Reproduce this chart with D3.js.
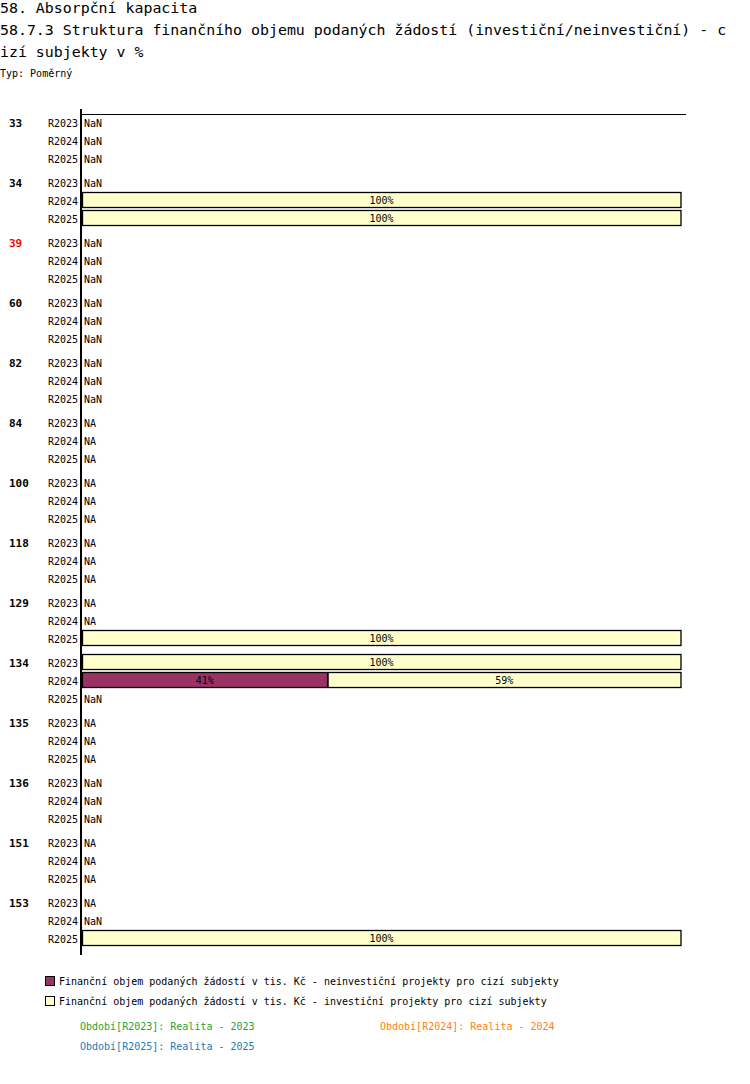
<!DOCTYPE html>
<html><head><meta charset="utf-8">
<script src="https://cdn.jsdelivr.net/npm/d3@7"></script>
<style>body{margin:0;background:#fff;} svg{display:block;} text{font-family:"DejaVu Sans Mono",monospace;}</style>
</head><body>
<svg id="c" width="750" height="1084"></svg>
<script>
const groups = ["33","34","39","60","82","84","100","118","129","134","135","136","151","153"];
const redGroups = ["39"];
const periods = ["R2023","R2024","R2025"];
// per group, per period: "NaN", "NA", or [neinvesticni %, investicni %]
const values = [
  ["NaN","NaN","NaN"],
  ["NaN",[0,100],[0,100]],
  ["NaN","NaN","NaN"],
  ["NaN","NaN","NaN"],
  ["NaN","NaN","NaN"],
  ["NA","NA","NA"],
  ["NA","NA","NA"],
  ["NA","NA","NA"],
  ["NA","NA",[0,100]],
  [[0,100],[41,59],"NaN"],
  ["NA","NA","NA"],
  ["NaN","NaN","NaN"],
  ["NA","NA","NA"],
  ["NA","NaN",[0,100]]
];
const seriesNames = ["Finanční objem podaných žádostí v tis. Kč - neinvestiční projekty pro cizí subjekty",
                     "Finanční objem podaných žádostí v tis. Kč - investiční projekty pro cizí subjekty"];
const seriesColors = ["#993366","#FFFFCC"];
const periodLegend = ["Období[R2023]: Realita - 2023","Období[R2024]: Realita - 2024","Období[R2025]: Realita - 2025"];
const periodColors = ["#2ca02c","#ff7f0e","#1f77b4"];

const svg = d3.select("#c");
svg.append("text").attr("x",0).attr("y",13).attr("font-size","14.9px").text("58. Absorpční kapacita");
svg.append("text").attr("x",0).attr("y",35).attr("font-size","14.9px").text("58.7.3 Struktura finančního objemu podaných žádostí (investiční/neinvestiční) - c");
svg.append("text").attr("x",0).attr("y",57).attr("font-size","14.9px").text("izí subjekty v %");
svg.append("text").attr("x",0).attr("y",77).attr("font-size","10px").text("Typ: Poměrný");

const yG = d3.scaleBand().domain(groups).range([114, 114 + groups.length*60]);
const yP = d3.scaleBand().domain(periods).range([0, 54]);
const x = d3.scaleLinear().domain([0,100]).range([82, 681]);

// top line & axis
svg.append("line").attr("x1",81).attr("x2",686).attr("y1",114.5).attr("y2",114.5).attr("stroke","#000").attr("stroke-width",1);
svg.append("line").attr("x1",81).attr("x2",81).attr("y1",109).attr("y2",955).attr("stroke","#000").attr("stroke-width",2);

groups.forEach((g,gi)=>{
  const g0 = yG(g);
  svg.append("text").attr("x",9).attr("y",g0+9).attr("dy","0.35em").attr("font-size","11px").attr("font-weight","bold")
     .attr("fill", redGroups.includes(g)?"#ff0000":"#000").text(g);
  periods.forEach((p,pi)=>{
    const cy = g0 + yP(p) + yP.bandwidth()/2;
    svg.append("text").attr("x",78).attr("y",cy).attr("dy","0.35em").attr("text-anchor","end").attr("font-size","10px").text(p);
    const v = values[gi][pi];
    if (typeof v === "string") {
      svg.append("text").attr("x",84).attr("y",cy).attr("dy","0.35em").attr("font-size","10px").text(v);
    } else {
      let acc = 0;
      v.forEach((val,si)=>{
        if (val<=0) { return; }
        const x0 = x(acc), x1 = x(acc+val);
        svg.append("rect").attr("x",x0+0.5).attr("y",cy-8.5).attr("width",x1-x0-0.5).attr("height",15)
          .attr("fill",seriesColors[si]).attr("stroke","#000").attr("stroke-width",1.3);
        svg.append("text").attr("x",(x0+x1)/2).attr("y",cy-1).attr("dy","0.35em").attr("text-anchor","middle")
          .attr("font-size","10px").text(val+"%");
        acc += val;
      });
    }
  });
});

// legend
seriesNames.forEach((n,i)=>{
  const y = 981 + i*20;
  svg.append("rect").attr("x",45.5).attr("y",y-4.5).attr("width",9).attr("height",9).attr("fill",seriesColors[i]).attr("stroke","#000").attr("stroke-width",1);
  svg.append("text").attr("x",59).attr("y",y).attr("dy","0.35em").attr("font-size","10px").text(n);
});
const plPos = [[80,1026],[380,1026],[80,1046]];
periodLegend.forEach((t,i)=>{
  svg.append("text").attr("x",plPos[i][0]).attr("y",plPos[i][1]).attr("dy","0.35em").attr("font-size","10px").attr("fill",periodColors[i]).text(t);
});
</script>
</body></html>
